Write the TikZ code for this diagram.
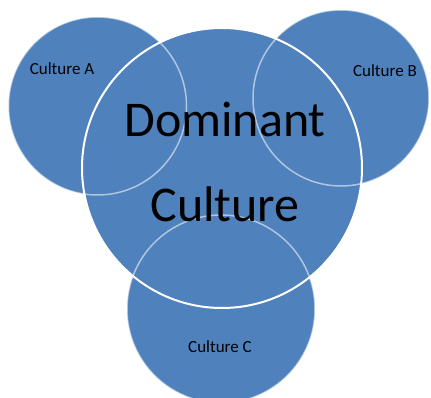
\documentclass[tikz,border=0pt]{standalone}
\usepackage{fontspec}
\setmainfont{Carlito}
\usetikzlibrary{positioning}
\definecolor{cultureblue}{HTML}{4F81BD}

\begin{document}
\begin{tikzpicture}[x=1pt,y=1pt,
    blob/.style={circle,fill=cultureblue,inner sep=0pt},
    rim/.style={circle,draw=white,draw opacity=0.55,line width=1.5pt,inner sep=0pt},
    domrim/.style={circle,draw=white,line width=2pt,inner sep=0pt},
    small/.style={font=\fontsize{17}{20}\selectfont,anchor=base},
    big/.style={font=\fontsize{50}{60}\selectfont,anchor=base}]
\useasboundingbox (0,0) rectangle (431,398);

% filled discs
\node[blob,minimum size=178pt] (A) at (97.5,292) {};
\node[blob,minimum size=176pt] (B) at (341,300) {};
\node[blob,minimum size=188pt] (C) at (221,89) {};
\node[blob,minimum size=280pt] (D) at (222,230) {};

% outlines
\node[rim,minimum size=178pt] at (A) {};
\node[rim,minimum size=176pt] at (B) {};
\node[rim,minimum size=188pt] at (C) {};
\node[domrim,minimum size=280pt] at (D) {};

% labels
\node[small] (labA) at (62,323) {Culture A};
\node[small] (labB) at (385,321) {Culture B};
\node[small] (labC) at (220,45) {Culture C};
\node[big] (dom1) at (225,261) {Dominant};
\node[big] (dom2) at (225,176) {Culture};
\end{tikzpicture}
\end{document}
